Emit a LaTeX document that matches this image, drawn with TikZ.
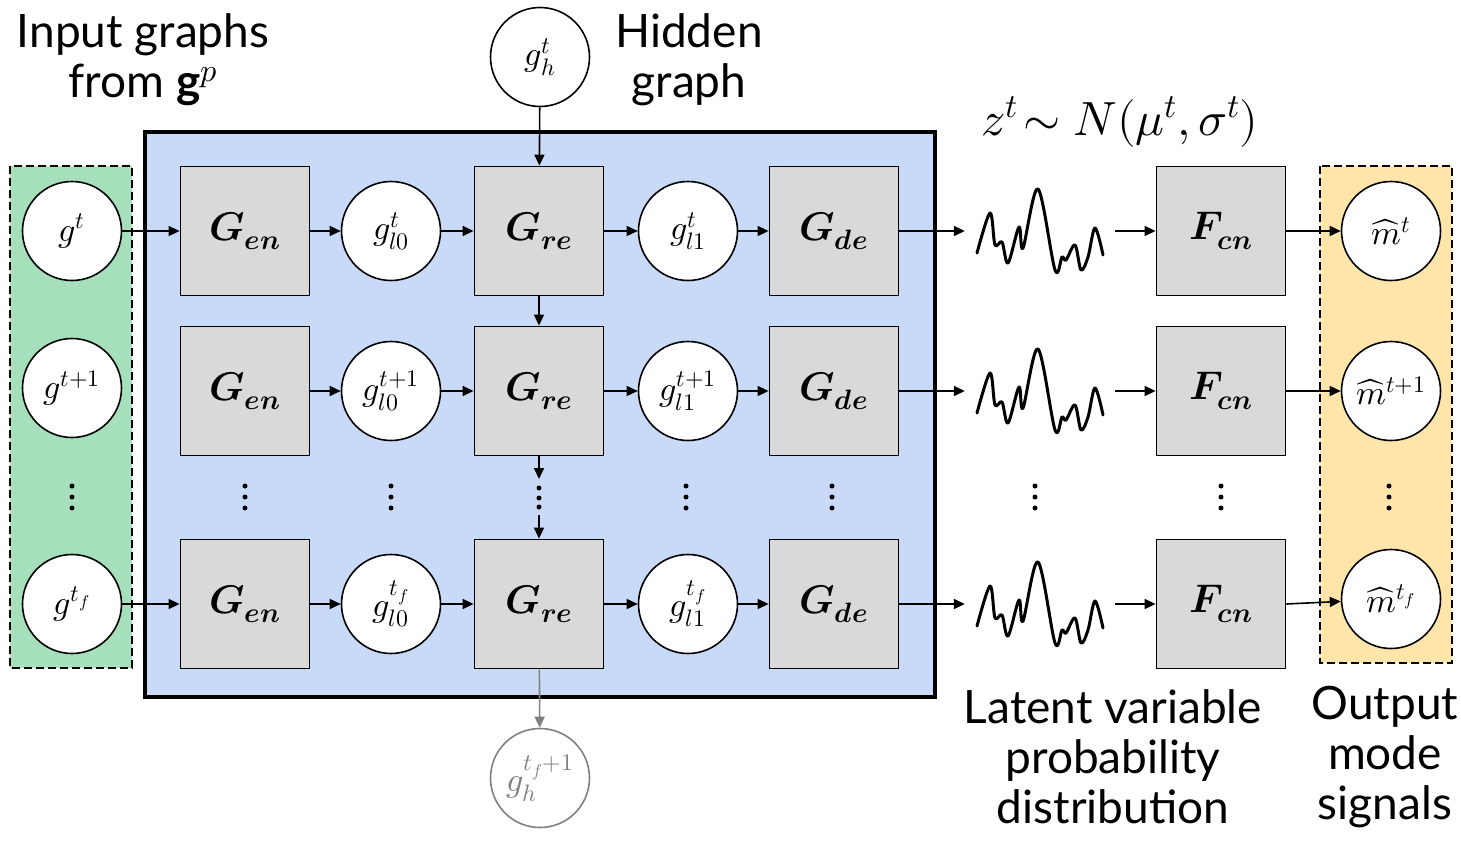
\documentclass[tikz,border=0pt]{standalone}
\usepackage{fontspec}
\usepackage{unicode-math}
\setmainfont{Lato}
\setmathfont{Latin Modern Math}
\usetikzlibrary{arrows.meta}
\definecolor{boxgray}{RGB}{217,217,217}
\definecolor{bluebg}{RGB}{201,218,248}
\definecolor{greenbg}{RGB}{166,223,188}
\definecolor{orangebg}{RGB}{255,229,170}
\definecolor{dimgray}{RGB}{128,128,128}
\begin{document}
\begin{tikzpicture}[x=1pt,y=-1pt,
  graybox/.style={draw, line width=1.8pt, fill=boxgray, minimum width=129pt, minimum height=129pt, inner sep=0pt, font=\fontsize{40}{46}\selectfont},
  circ/.style={circle, draw, line width=1.6pt, fill=white, minimum size=99pt, inner sep=0pt, font=\fontsize{34}{38}\selectfont},
  arr/.style={-{Triangle[length=11pt,width=10pt]}, line width=1.6pt},
  lbl/.style={align=center, font=\fontsize{46}{50}\selectfont, inner sep=0pt},
  wavebox/.style={minimum width=150pt, minimum height=90pt, inner sep=0pt},
  dashbox/.style={dash pattern=on 8pt off 4pt, line width=1.8pt}]
\useasboundingbox (0,0) rectangle (1461,843);
% backgrounds
\draw[dashbox, fill=greenbg] (10,166) rectangle (132,668);
\draw[dashbox, fill=orangebg] (1320,166) rectangle (1452,663);
\draw[line width=4pt, fill=bluebg] (145,132) rectangle (935,697);
% labels
\node[lbl] (inlbl) at (143,60) {Input graphs\\from $\mathbf{g}^{p}$};
\node[lbl] (hidlbl) at (689,60) {Hidden\\graph};
\node[lbl, font=\fontsize{48}{50}\selectfont] (zlbl) at (1120,122) {$z^{t}\!\sim N(\mu^{t},\sigma^{t})$};
\node[lbl] (latlbl) at (1113,757) {Latent variable\\probability\\distribution};
\node[lbl] (outlbl) at (1385,757) {Output\\mode\\signals};
% hidden graph nodes
\node[circ] (gh) at (540,57) {$g_h^{t}$};
\node[circ, draw=dimgray, text=dimgray] (ghf) at (540,778) {$g_h^{t_f+1}$};
% input nodes
\node[circ] (in1) at (72,231) {$g^{t}$};
\node[circ] (in2) at (72,388) {$g^{t+1}$};
\node[circ] (in3) at (72,604) {$g^{t_f}$};
% rows
\foreach \r/\y/\s in {1/231/{t}, 2/391/{t+1}, 3/604/{t_f}} {
  \node[graybox] (gen\r) at (245,\y) {$\symbfit{G}_{\symbfit{en}}$};
  \node[circ] (l0\r) at (391,\y) {$g_{l0}^{\s}$};
  \node[graybox] (gre\r) at (539,\y) {$\symbfit{G}_{\symbfit{re}}$};
  \node[circ] (l1\r) at (688,\y) {$g_{l1}^{\s}$};
  \node[graybox] (gde\r) at (834,\y) {$\symbfit{G}_{\symbfit{de}}$};
  \node[wavebox] (w\r) at (1040,\y) {};
  \node[graybox] (fcn\r) at (1221,\y) {$\symbfit{F}_{\symbfit{cn}}$};
  \draw[arr] (gen\r) -- (l0\r);
  \draw[arr] (l0\r) -- (gre\r);
  \draw[arr] (gre\r) -- (l1\r);
  \draw[arr] (l1\r) -- (gde\r);
  \draw[arr] (gde\r) -- (w\r);
  \draw[arr] (w\r) -- (fcn\r);
  \draw[line width=3pt, line cap=round, line join=round] plot[smooth, tension=0.55] coordinates {
    (977,\y+22) (990,\y-18) (995,\y+14) (1002,\y+11) (1008,\y+32) (1019,\y-4) (1023,\y+17)
    (1038,\y-42) (1055,\y+39) (1062,\y+26) (1066,\y+29) (1075,\y+14) (1081,\y+39)
    (1088,\y+26) (1095,\y-3) (1103,\y+24)};
}
\node[circ] (m1) at (1391,231) {${\widehat{m}}{}^{t}$};
\node[circ] (m2) at (1391,391) {${\widehat{m}}{}^{t+1}$};
\node[circ] (m3) at (1391,599) {${\widehat{m}}{}^{t_f}$};
\draw[arr] (fcn1) -- (m1);
\draw[arr] (fcn2) -- (m2);
\draw[arr] (fcn3.east) -- (m3);
\draw[arr] (in1) -- (gen1);
\draw[arr] (in3) -- (gen3);
% vertical connectors
\draw[arr] (gh) -- (gre1);
\draw[arr] (gre1) -- (gre2);
\coordinate (d1) at (539,479);
\coordinate (d2) at (539,515);
\draw[arr] (gre2) -- (d1);
\foreach \yy in {488,498,507} \fill (539,\yy) circle (2.5pt);
\draw[arr] (d2) -- (gre3);
\draw[arr, draw=dimgray, fill=dimgray] (gre3) -- (ghf);
% dots
\foreach \x in {72,245,391,686,832,1035,1221,1389} {
  \foreach \yy in {486,497,508} \fill (\x,\yy) circle (2.5pt);
}
\end{tikzpicture}
\end{document}
